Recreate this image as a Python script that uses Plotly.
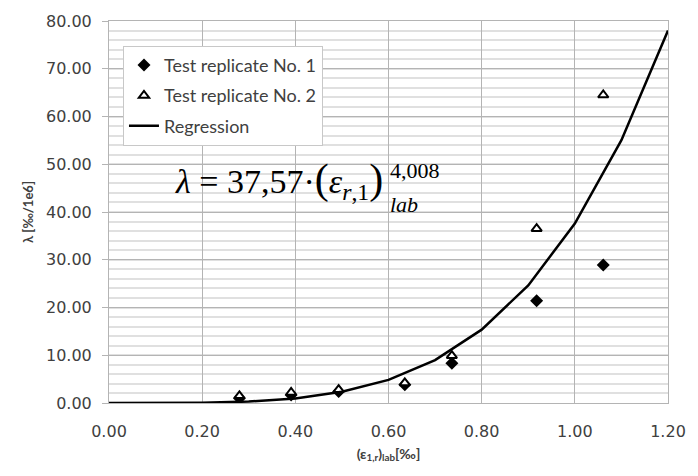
import plotly.graph_objects as go

# Data
x_rep1 = [0.280, 0.391, 0.493, 0.635, 0.736, 0.918, 1.061]
y_rep1 = [1.0, 1.7, 2.4, 3.8, 8.3, 21.4, 28.9]
x_rep2 = [0.280, 0.391, 0.493, 0.635, 0.736, 0.918, 1.061]
y_rep2 = [1.5, 2.2, 2.8, 4.2, 9.9, 36.5, 64.5]
x_reg = [0.0, 0.1, 0.2, 0.3, 0.4, 0.5, 0.6, 0.7, 0.8, 0.9, 1.0, 1.1, 1.2]
y_reg = [0.0, 0.004, 0.06, 0.30, 0.95, 2.34, 4.85, 9.00, 15.36, 24.63, 37.57, 55.05, 78.02]

x_ticks = [0.0, 0.2, 0.4, 0.6, 0.8, 1.0, 1.2]
y_ticks = [0, 10, 20, 30, 40, 50, 60, 70, 80]

TICKFONT = dict(family="DejaVu Sans, sans-serif", size=16, color="#404040")
SERIF = "Liberation Serif, Times New Roman, serif"

fig = go.Figure()
fig.add_trace(go.Scatter(
    x=x_rep1, y=y_rep1, mode="markers", name="Test replicate No. 1",
    legendgroup="a",
    marker=dict(symbol="diamond", size=10, color="black"),
))
fig.add_trace(go.Scatter(
    x=x_rep2, y=y_rep2, mode="markers", name="Test replicate No. 2",
    legendgroup="b",
    marker=dict(symbol="triangle-up", size=9, color="white",
                line=dict(width=2, color="black")),
))
fig.add_trace(go.Scatter(
    x=x_reg, y=y_reg, mode="lines", name="Regression",
    legendgroup="c",
    line=dict(color="black", width=2.5),
))

fig.update_layout(
    width=698, height=476,
    margin=dict(l=109, r=28, t=15, b=73),
    paper_bgcolor="white", plot_bgcolor="white",
    showlegend=True,
    legend=dict(
        x=0.025, y=0.935, xanchor="left", yanchor="top",
        bgcolor="white", bordercolor="#c8c8c8", borderwidth=1,
        font=dict(family="Lato, Open Sans, sans-serif", size=18, color="#404040"),
        tracegroupgap=4, itemwidth=30,
    ),
    xaxis=dict(
        range=[0, 1.2], tickvals=x_ticks,
        ticktext=[f"{v:.2f}" for v in x_ticks],
        showgrid=True, gridcolor="#b4b4b4", gridwidth=1,
        showline=True, linecolor="#b4b4b4", linewidth=1, mirror=True,
        ticks="", tickfont=TICKFONT, zeroline=False, ticklabelstandoff=14,
        title=dict(
            text="<b>(ε<sub>1,r</sub>)<sub>lab</sub>[‰]</b>",
            font=dict(family="Lato, Open Sans, sans-serif", size=14, color="#404040"),
            standoff=8,
        ),
    ),
    yaxis=dict(
        range=[0, 80], tickvals=y_ticks,
        ticktext=[f"{v:.2f}" for v in y_ticks],
        showgrid=True, gridcolor="#b4b4b4", gridwidth=1,
        minor=dict(dtick=2, showgrid=True, gridcolor="#e0e0e0", gridwidth=1.5),
        showline=True, linecolor="#b4b4b4", linewidth=1, mirror=True,
        ticks="outside", ticklen=6, tickcolor="#b4b4b4",
        tickfont=TICKFONT, zeroline=False, ticklabelstandoff=7,
        title=dict(
            text="<b>λ [‰/1e6]</b>",
            font=dict(family="Lato, Open Sans, sans-serif", size=13, color="#404040"),
            standoff=9,
        ),
    ),
)

fig.add_annotation(
    x=0.137, y=46.5, xref="x", yref="y", xanchor="left", yanchor="middle",
    text=("<i>λ</i> = 37,57·<span style='font-size:42px'>(</span><i>ε</i>"
          "<sub><i>r</i>,1</sub><span style='font-size:42px'>)</span>"),
    showarrow=False, font=dict(family=SERIF, size=34, color="black"),
)
fig.add_annotation(
    x=0.598, y=48.6, xref="x", yref="y", xanchor="left", yanchor="middle",
    text="4,008", showarrow=False, font=dict(family=SERIF, size=22, color="black"),
)
fig.add_annotation(
    x=0.598, y=41.6, xref="x", yref="y", xanchor="left", yanchor="middle",
    text="<i>lab</i>", showarrow=False, font=dict(family=SERIF, size=22, color="black"),
)

fig.write_html("out.html")
